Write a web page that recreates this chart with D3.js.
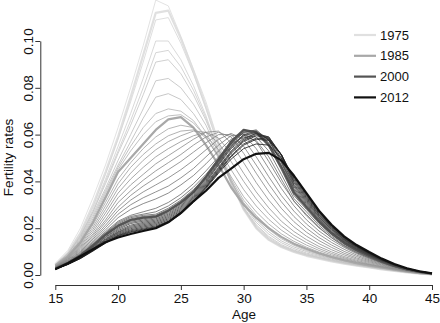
<!DOCTYPE html>
<html>
<head>
<meta charset="utf-8">
<script src="https://cdn.jsdelivr.net/npm/d3@7"></script>
<style>
  body { margin: 0; background: #fff; }
  svg { display: block; }
  text { font-family: "Liberation Sans", Arial, Helvetica, sans-serif; fill: #111; }
</style>
</head>
<body>
<div id="chart"></div>
<script>
const ages = [15,16,17,18,19,20,21,22,23,24,25,26,27,28,29,30,31,32,33,34,35,36,37,38,39,40,41,42,43,44,45]

// age-specific fertility rates, one array per year, ages 15..45
const r1975 = [.0045,.0095,.018,.030,.044,.059,.076,.094,.112,.113,.101,.087,.072,.056,.040,.028,.020,.015,.012,.0098,.0082,.0070,.0058,.0048,.0040,.0032,.0024,.0017,.0011,.0006,.0003]
const r1976 = [.0050,.0105,.020,.033,.047,.063,.080,.098,.1175,.115,.102,.088,.074,.057,.041,.0285,.020,.015,.012,.0098,.0082,.0070,.0058,.0048,.0040,.0032,.0024,.0017,.0011,.0006,.0003]
const r1977 = [.0045,.0095,.018,.029,.043,.058,.074,.091,.109,.110,.099,.086,.071,.055,.040,.028,.020,.015,.012,.0099,.0083,.0071,.0059,.0049,.0040,.0032,.0024,.0017,.0011,.0006,.0003]
const r1978 = [.0045,.009,.017,.028,.041,.055,.069,.084,.100,.100,.092,.081,.068,.053,.039,.028,.0205,.0155,.0123,.0101,.0085,.0072,.0060,.0050,.0041,.0033,.0025,.0018,.0011,.0006,.0003]
const r1979 = [.0045,.009,.017,.027,.040,.053,.066,.080,.095,.096,.089,.079,.067,.053,.039,.0285,.021,.016,.0126,.0104,.0087,.0074,.0062,.0051,.0042,.0034,.0026,.0018,.0012,.0007,.0003]
const r1980 = [.0045,.009,.0165,.027,.039,.052,.064,.077,.091,.092,.086,.077,.066,.053,.040,.029,.0215,.0165,.013,.0107,.009,.0076,.0064,.0053,.0043,.0035,.0027,.0019,.0012,.0007,.0003]
const r1981 = [.0045,.009,.016,.026,.037,.049,.060,.071,.083,.084,.080,.073,.064,.052,.040,.030,.0225,.0175,.0138,.0113,.0094,.008,.0067,.0055,.0045,.0036,.0028,.002,.0013,.0007,.0004]
const r1982 = [.0043,.0085,.0155,.025,.036,.047,.057,.067,.076,.0775,.075,.069,.061,.051,.040,.0305,.0235,.0185,.0146,.012,.010,.0084,.007,.0058,.0047,.0037,.0029,.0021,.0013,.0008,.0004]
const r1983 = [.0042,.0083,.015,.024,.035,.046,.055,.063,.069,.071,.070,.066,.059,.050,.040,.031,.0245,.0195,.0155,.0127,.0105,.0088,.0073,.006,.0049,.0039,.003,.0022,.0014,.0008,.0004]
const r1984 = [.004,.008,.0145,.023,.034,.045,.053,.060,.0655,.068,.0685,.065,.059,.0505,.041,.032,.0255,.0203,.0162,.0132,.011,.0091,.0075,.0062,.005,.004,.0031,.0022,.0014,.0008,.0004]
const r1985 = [.004,.008,.014,.0225,.033,.044,.050,.056,.062,.0665,.0675,.063,.0555,.047,.0375,.030,.0245,.020,.0163,.0134,.0112,.0093,.0077,.0063,.0051,.0041,.0032,.0023,.0015,.0008,.0004]
const r1986 = [.004,.0078,.0135,.0215,.031,.041,.048,.054,.059,.0625,.064,.063,.0585,.051,.042,.0335,.027,.0218,.0176,.0144,.0119,.0098,.0081,.0066,.0053,.0042,.0032,.0023,.0015,.0008,.0004]
const r1987 = [.0038,.0075,.013,.0205,.0295,.039,.046,.0515,.056,.0595,.0615,.062,.0595,.0535,.045,.0365,.0295,.0238,.0192,.0156,.0128,.0105,.0086,.007,.0056,.0044,.0033,.0024,.0015,.0009,.0004]
const r1988 = [.0037,.0072,.0125,.0195,.028,.037,.0435,.049,.0535,.057,.0595,.0615,.061,.0565,.0485,.040,.0325,.0262,.021,.017,.0139,.0113,.0092,.0074,.0059,.0046,.0035,.0025,.0016,.0009,.0004]
const r1989 = [.0036,.007,.012,.0185,.0265,.035,.041,.046,.0505,.054,.057,.0595,.061,.0585,.052,.0435,.0355,.0287,.023,.0186,.0151,.0122,.0099,.0079,.0063,.0049,.0037,.0026,.0017,.001,.0005]
const r1990 = [.0035,.0068,.0115,.0175,.025,.033,.0385,.043,.0475,.051,.0545,.058,.061,.0615,.0565,.048,.0395,.032,.0257,.0206,.0166,.0134,.0108,.0086,.0068,.0053,.004,.0028,.0018,.001,.0005]
const r1991 = [.0034,.0065,.011,.0168,.0235,.031,.036,.0405,.0445,.048,.0515,.0555,.059,.061,.059,.052,.0435,.0355,.0285,.0228,.0183,.0147,.0118,.0093,.0073,.0057,.0043,.003,.0019,.0011,.0005]
const r1992 = [.0033,.0063,.0105,.016,.0225,.029,.034,.038,.0415,.045,.0485,.0525,.0565,.060,.060,.055,.047,.0388,.0313,.025,.020,.016,.0128,.0101,.0079,.0061,.0046,.0032,.002,.0011,.0005]
const r1993 = [.0032,.006,.010,.0153,.0213,.0275,.032,.0355,.0385,.0415,.045,.049,.0535,.058,.0605,.058,.0505,.042,.034,.0273,.0218,.0174,.0139,.011,.0085,.0065,.0049,.0034,.0021,.0012,.0006]
const r1994 = [.0031,.0058,.0096,.0146,.0203,.026,.030,.033,.0355,.038,.0415,.0455,.0505,.0555,.0595,.060,.054,.0455,.037,.0296,.0236,.0188,.015,.0118,.0091,.0069,.0052,.0036,.0022,.0013,.0006]
const r1995 = [.003,.0056,.0092,.014,.0193,.0245,.028,.0305,.0325,.035,.0385,.0425,.0475,.053,.058,.0605,.057,.0485,.0395,.0317,.0253,.0201,.016,.0125,.0096,.0073,.0054,.0037,.0023,.0013,.0006]
const r1996 = [.0029,.0054,.0089,.0135,.0185,.023,.0255,.027,.0285,.031,.0345,.039,.0445,.0505,.056,.059,.0575,.0505,.041,.0315,.0259,.0204,.0159,.0122,.0095,.0073,.0052,.0035,.0021,.0012,.0005]
const r1997 = [.0028,.0053,.0087,.0132,.018,.0225,.025,.026,.027,.0295,.033,.0375,.043,.0495,.0555,.0595,.059,.053,.043,.0327,.027,.0212,.0166,.0127,.0099,.0075,.0054,.0036,.0022,.0012,.0005]
const r1998 = [.0028,.0052,.0086,.013,.0178,.022,.0245,.0255,.026,.0285,.032,.0365,.042,.0485,.055,.060,.0605,.055,.045,.034,.028,.022,.0172,.0132,.0102,.0078,.0056,.0038,.0023,.0013,.0006]
const r1999 = [.0028,.0052,.0085,.0128,.0175,.0215,.024,.025,.0255,.028,.0315,.036,.042,.049,.056,.061,.061,.056,.046,.0346,.0285,.0224,.0175,.0134,.0104,.008,.0057,.0038,.0024,.0013,.0006]
const r2000 = [.0028,.0051,.0084,.0126,.0172,.021,.0235,.0245,.025,.0275,.031,.0355,.042,.0495,.057,.062,.061,.0555,.046,.0353,.029,.0228,.0178,.0137,.0106,.0081,.0058,.0039,.0024,.0013,.0006]
const r2001 = [.0027,.005,.0082,.0123,.0168,.0205,.023,.024,.0248,.027,.0305,.035,.0415,.049,.0565,.0615,.0615,.0565,.047,.0359,.0296,.0232,.0182,.0139,.0108,.0083,.0059,.004,.0025,.0014,.0006]
const r2002 = [.0027,.005,.008,.012,.0163,.020,.0225,.0235,.0245,.0265,.030,.035,.041,.0485,.056,.061,.062,.0575,.048,.0364,.030,.0236,.0184,.0141,.011,.0084,.006,.004,.0025,.0014,.0006]
const r2003 = [.0027,.0049,.0079,.0118,.016,.0195,.022,.023,.024,.026,.0295,.0345,.0405,.048,.055,.060,.0615,.0575,.0485,.037,.0305,.0239,.0187,.0144,.0111,.0085,.0061,.0041,.0025,.0014,.0006]
const r2004 = [.0026,.0048,.0077,.0115,.0155,.019,.0213,.0225,.0235,.0255,.029,.034,.040,.0475,.0545,.0595,.061,.058,.049,.0377,.031,.0244,.0191,.0146,.0113,.0087,.0062,.0042,.0026,.0014,.0006]
const r2005 = [.0026,.0048,.0076,.0113,.0152,.0185,.0208,.022,.023,.025,.0285,.0335,.0395,.047,.054,.0585,.0605,.0585,.050,.0383,.0315,.0248,.0194,.0149,.0115,.0088,.0063,.0042,.0026,.0014,.0006]
const r2006 = [.0026,.0047,.0075,.0111,.0149,.0182,.0203,.0215,.0225,.0245,.028,.033,.039,.046,.053,.058,.0605,.059,.051,.0388,.032,.0251,.0197,.0151,.0117,.009,.0064,.0043,.0027,.0015,.0006]
const r2007 = [.0026,.0047,.0074,.0109,.0146,.0178,.0198,.021,.022,.024,.0275,.0325,.0385,.0455,.0525,.0575,.060,.059,.0515,.0395,.0325,.0256,.020,.0153,.0119,.0091,.0065,.0044,.0027,.0015,.0007]
const r2008 = [.0025,.0046,.0073,.0107,.0143,.0174,.0193,.0205,.0215,.0235,.027,.032,.038,.045,.052,.057,.0595,.0585,.0515,.0401,.033,.0259,.0203,.0156,.0121,.0092,.0066,.0044,.0027,.0015,.0007]
const r2009 = [.0025,.0046,.0072,.0105,.014,.017,.0189,.020,.021,.023,.0265,.0315,.0375,.0445,.051,.056,.0585,.058,.0515,.0407,.0335,.0263,.0206,.0158,.0122,.0094,.0067,.0045,.0028,.0015,.0007]
const r2010 = [.0025,.0045,.0071,.0104,.0138,.0168,.0185,.0196,.0206,.0228,.0265,.0315,.0375,.044,.0505,.0555,.058,.0575,.0515,.0413,.034,.0267,.0209,.016,.0124,.0095,.0068,.0046,.0028,.0016,.0007]
const r2011 = [.0025,.0045,.007,.0102,.0136,.0165,.0182,.0193,.0203,.0225,.026,.031,.037,.0435,.0495,.054,.056,.0555,.050,.0419,.0345,.0271,.0212,.0163,.0126,.0097,.0069,.0046,.0029,.0016,.0007]
const r2012 = [.0025,.005,.008,.011,.014,.016,.0175,.0188,.020,.0225,.0265,.0315,.036,.0415,.0455,.0495,.0518,.0522,.049,.0425,.035,.0275,.0215,.0165,.0128,.0098,.007,.0047,.0029,.0016,.0007]

const years = [1975,1976,1977,1978,1979,1980,1981,1982,1983,1984,1985,1986,1987,1988,1989,1990,1991,1992,1993,
               1994,1995,1996,1997,1998,1999,2000,2001,2002,2003,2004,2005,2006,2007,2008,2009,2010,2011,2012]
const rates = [r1975,r1976,r1977,r1978,r1979,r1980,r1981,r1982,r1983,r1984,r1985,r1986,r1987,r1988,r1989,r1990,r1991,r1992,r1993,
               r1994,r1995,r1996,r1997,r1998,r1999,r2000,r2001,r2002,r2003,r2004,r2005,r2006,r2007,r2008,r2009,r2010,r2011,r2012]

const highlight = [1975, 1985, 2000, 2012]
const xTicks = [15, 20, 25, 30, 35, 40, 45]
const yTicks = [0, 0.02, 0.04, 0.06, 0.08, 0.10]

const width = 440
const height = 323

const svg = d3.select('#chart')
  .append('svg')
    .attr('width', width)
    .attr('height', height)

const x = d3.scaleLinear().domain([15, 45]).range([55.3, 432])
const y = d3.scaleLinear().domain([0, 0.10]).range([275, 41])
const grey = d3.scaleLinear().domain([1975, 2012]).range(['#e0e0e0', '#111111'])

// axes, R style: detached from the data, line only between first and last tick
const xAxis = svg.append('g')
    .attr('transform', 'translate(0,285)')
    .call(d3.axisBottom(x).tickValues(xTicks).tickSize(5).tickSizeOuter(0).tickPadding(3))
xAxis.selectAll('text').attr('font-size', '13.5px')

const yAxis = svg.append('g')
    .attr('transform', 'translate(40.3,0)')
    .call(d3.axisLeft(y).tickValues(yTicks).tickSize(5).tickSizeOuter(0).tickFormat(d3.format('.2f')))
yAxis.selectAll('text')
    .attr('font-size', '13.5px')
    .attr('text-anchor', 'middle')
    .attr('x', null)
    .attr('dy', null)
    .attr('transform', 'translate(-7.6,0) rotate(-90)')

svg.selectAll('.domain, .tick line').attr('stroke', '#333')

svg.append('text')
    .attr('x', 244)
    .attr('y', 319)
    .attr('text-anchor', 'middle')
    .attr('font-size', '13.5px')
    .text('Age')

svg.append('text')
    .attr('transform', 'translate(13,157.5) rotate(-90)')
    .attr('text-anchor', 'middle')
    .attr('font-size', '13.5px')
    .text('Fertility rates')

// curves
const line = d3.line()
    .x((d, i) => x(ages[i]))
    .y(d => y(d))

svg.append('g')
    .attr('fill', 'none')
    .attr('stroke-linejoin', 'round')
  .selectAll('path')
  .data(years)
  .join('path')
    .attr('stroke', d => grey(d))
    .attr('stroke-width', d => highlight.includes(d) ? 2.2 : 0.8)
    .attr('d', (d, i) => line(rates[i]))

// legend
const legend = svg.append('g')
  .selectAll('g')
  .data(highlight)
  .join('g')
    .attr('transform', (d, i) => `translate(354,${35 + i * 20.8})`)

legend.append('line')
    .attr('x2', 22)
    .attr('stroke', d => grey(d))
    .attr('stroke-width', 2.2)

legend.append('text')
    .attr('x', 26)
    .attr('dy', '0.36em')
    .attr('font-size', '13px')
    .text(d => d)
</script>
</body>
</html>
